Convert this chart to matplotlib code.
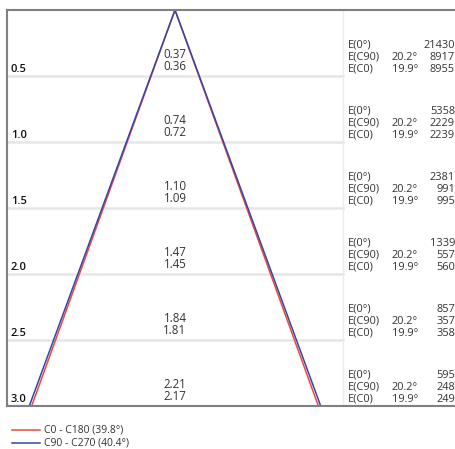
import numpy as np
import matplotlib.pyplot as plt

# Abstand (m) und Durchmesser des Lichtkegels
heights = [0.5, 1.0, 1.5, 2.0, 2.5, 3.0]
diam_c90 = [0.37, 0.74, 1.10, 1.47, 1.84, 2.21]
diam_c0 = [0.36, 0.72, 1.09, 1.45, 1.81, 2.17]
e_0 = [21430, 5358, 2381, 1339, 857, 595]
e_c90 = [8917, 2229, 991, 557, 357, 248]
e_c0 = [8955, 2239, 995, 560, 358, 249]
half_c0 = 19.9
half_c90 = 20.2
legend_labels = ['C0 - C180 (39.8°)', 'C90 - C270 (40.4°)']

red = '#f0463c'
blue = '#3346a8'
txt = '#333333'

W, H = 456, 449
fig = plt.figure(figsize=(W / 100, H / 100), dpi=100)
ax = fig.add_axes([0, 0, 1, 1])
ax.axis('off')

# Pixel -> Meter
scale = 132.0
cx, top = 175.0, 10.0
ax.set_xlim(-cx / scale, (W - cx) / scale)
ax.set_ylim((H - top) / scale, -top / scale)

x_left = (7 - cx) / scale
x_sep = (343 - cx) / scale
x_right = (W - cx) / scale
hmax = heights[-1]

plt.rcParams['font.family'] = ['Open Sans', 'DejaVu Sans']

# Gitter
for h in heights[:-1]:
    ax.plot([x_left, x_sep], [h, h], color='#e6e6e6', lw=1.8, zorder=1)
ax.plot([x_sep, x_sep], [0, hmax], color='#ececec', lw=1.0, zorder=1)
ax.plot([x_left, x_right], [0, 0], color='#808080', lw=1.5, zorder=3)
ax.plot([x_left, x_right], [hmax, hmax], color='#808080', lw=1.5, zorder=3)
ax.plot([x_left, x_left], [0, hmax], color='#808080', lw=1.5, zorder=3)

# Kegel
for ang, col in [(half_c0, red), (half_c90, blue)]:
    r = np.tan(np.radians(ang)) * hmax
    ax.plot([-r, 0, r], [hmax, 0, hmax], color=col, lw=1.1, zorder=2)

fs = 8.3
tfs = 7.9
for i, h in enumerate(heights):
    ax.text(x_left + 4 / scale, h - 4.5 / scale, f'{h:.1f}', fontsize=8, fontweight='semibold',
            color='#111111', ha='left', va='baseline')
    ax.text(0, h - 18.5 / scale, f'{diam_c90[i]:.2f}', fontsize=fs, color=txt, ha='center', va='baseline')
    ax.text(0, h - 5.5 / scale, f'{diam_c0[i]:.2f}', fontsize=fs, color=txt, ha='center', va='baseline')
    x1 = x_sep + 5 / scale
    x2 = x_sep + 49 / scale
    x3 = x_right - 1 / scale
    rows = [('E(0°)', '', e_0[i]),
            ('E(C90)', f'{half_c90}°', e_c90[i]),
            ('E(C0)', f'{half_c0}°', e_c0[i])]
    for j, (a, b, c) in enumerate(rows):
        y = h - (4.5 + 12 * (2 - j)) / scale
        ax.text(x1, y, a, fontsize=tfs, color=txt, ha='left', va='baseline')
        ax.text(x2, y, b, fontsize=tfs, color=txt, ha='left', va='baseline')
        ax.text(x3, y, str(c), fontsize=tfs, color=txt, ha='right', va='baseline')

# Legende
for k, (lab, col) in enumerate(zip(legend_labels, [red, blue])):
    y = (430 + 13 * k - top) / scale
    ax.plot([(12 - cx) / scale, (40 - cx) / scale], [y, y], color=col, lw=1.1)
    ax.text((44 - cx) / scale, y, lab, fontsize=7.5, color=txt, ha='left', va='center')

fig.savefig('out.png', dpi=100)
